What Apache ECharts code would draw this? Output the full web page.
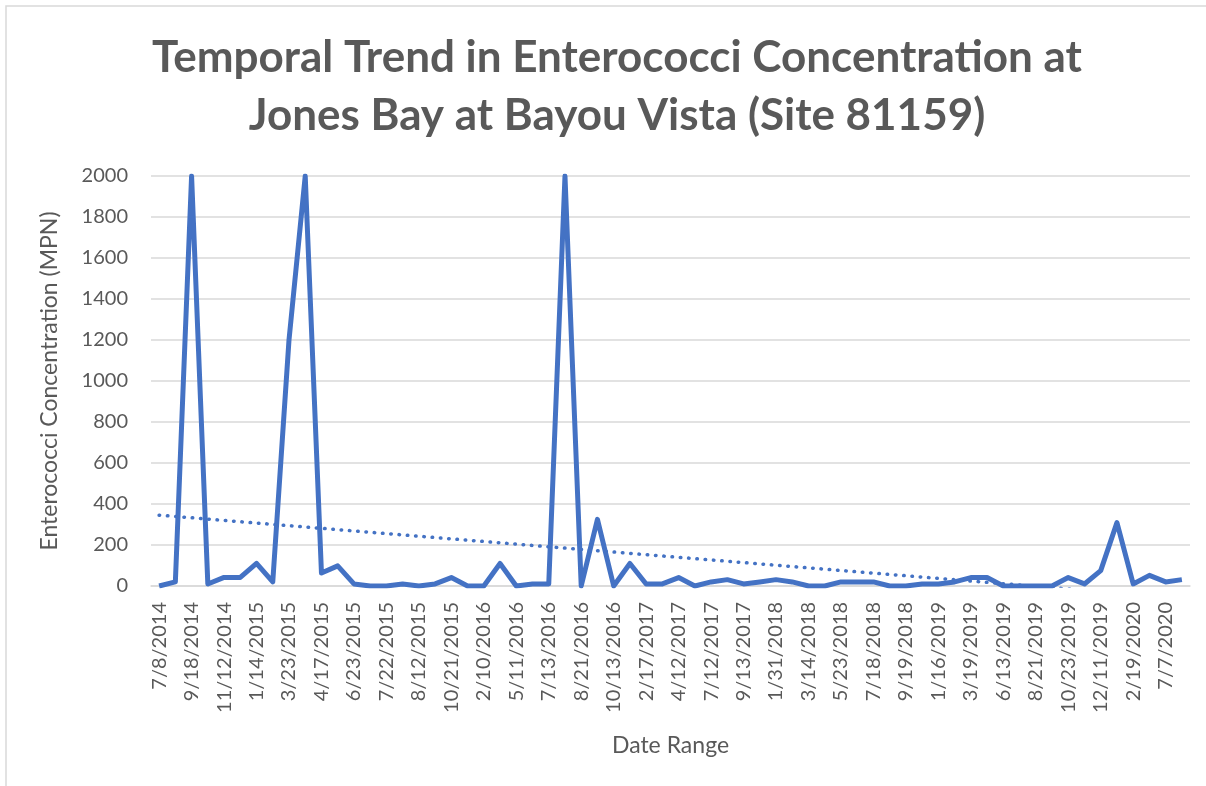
<!DOCTYPE html>
<html>
<head>
<meta charset="utf-8">
<script src="https://cdn.jsdelivr.net/npm/echarts@6/dist/echarts.min.js"></script>
<style>
    html, body { margin: 0; padding: 0; background: #fff; }
    #chart { width: 1206px; height: 786px; }
</style>
</head>
<body>
<div id="chart"></div>
<script>
    // labels shown on the axis (every other sample)
    const tickLabels = [
        '7/8/2014', '9/18/2014', '11/12/2014', '1/14/2015', '3/23/2015', '4/17/2015',
        '6/23/2015', '7/22/2015', '8/12/2015', '10/21/2015', '2/10/2016', '5/11/2016',
        '7/13/2016', '8/21/2016', '10/13/2016', '2/17/2017', '4/12/2017', '7/12/2017',
        '9/13/2017', '1/31/2018', '3/14/2018', '5/23/2018', '7/18/2018', '9/19/2018',
        '1/16/2019', '3/19/2019', '6/13/2019', '8/21/2019', '10/23/2019', '12/11/2019',
        '2/19/2020', '7/7/2020'
    ]

    // enterococci (MPN), one value per sample
    const enterococci = [
        0, 20, 2000, 10, 42, 42, 110, 20, 1200, 2000,
        63, 98, 10, 0, 0, 10, 0, 10, 41, 0,
        0, 110, 0, 10, 10, 2000, 0, 325, 0, 110,
        10, 10, 41, 0, 20, 31, 10, 20, 31, 20,
        0, 0, 20, 20, 20, 0, 0, 10, 10, 20,
        41, 41, 0, 0, 0, 0, 41, 10, 75, 309,
        10, 52, 20, 31
    ]

    const yTicks = { min: 0, max: 2000, interval: 200 }

    // odd samples have no visible label
    let categories = []
    tickLabels.forEach(function (label) {
        categories.push(label)
        categories.push('')
    })
    categories = categories.slice(0, enterococci.length)

    // linear trendline (least squares)
    const n = enterococci.length
    let sx = 0, sy = 0, sxy = 0, sxx = 0
    enterococci.forEach(function (v, i) {
        sx += i; sy += v; sxy += i * v; sxx += i * i
    })
    const slope = (n * sxy - sx * sy) / (n * sxx - sx * sx)
    const intercept = (sy - slope * sx) / n
    const trend = enterococci.map(function (v, i) {
        return +(intercept + slope * i).toFixed(2)
    })

    const textColor = '#595959'
    const gridColor = '#d9d9d9'
    const lineColor = '#4472C4'
    const font = 'Lato'

    const myChart = echarts.init(document.getElementById('chart'))
    let option = {
        backgroundColor: '#fff',
        animation: false,
        graphic: [
            {
                type: 'rect',
                shape: { x: 6, y: 6, width: 1400, height: 1000 },
                style: { fill: 'none', stroke: gridColor, lineWidth: 1.5 },
                silent: true
            }
        ],
        title: {
            text: 'Temporal Trend in Enterococci Concentration at\nJones Bay at Bayou Vista (Site 81159)',
            left: 612,
            top: 24,
            textAlign: 'center',
            textStyle: {
                fontFamily: font,
                fontWeight: 'bold',
                fontSize: 44,
                lineHeight: 58,
                color: textColor
            }
        },
        grid: {
            left: 151,
            right: 16,
            top: 176,
            bottom: 200,
            containLabel: false
        },
        xAxis: {
            type: 'category',
            data: categories,
            boundaryGap: true,
            name: 'Date Range',
            nameLocation: 'middle',
            nameGap: 148,
            nameTextStyle: { fontFamily: font, fontSize: 23, color: textColor },
            axisLine: { lineStyle: { color: gridColor, width: 1.5 } },
            axisTick: { show: false },
            axisLabel: {
                interval: 1,
                rotate: 90,
                margin: 16,
                fontFamily: font,
                fontSize: 20,
                color: textColor
            }
        },
        yAxis: {
            type: 'value',
            min: yTicks.min,
            max: yTicks.max,
            interval: yTicks.interval,
            name: 'Enterococci Concentration (MPN)',
            nameLocation: 'middle',
            nameRotate: 90,
            nameGap: 90,
            nameTextStyle: { fontFamily: font, fontSize: 23, color: textColor },
            axisLine: { show: false },
            axisTick: { show: false },
            axisLabel: {
                margin: 23,
                fontFamily: font,
                fontSize: 20,
                color: textColor,
                formatter: function (v) { return String(v) }
            },
            splitLine: { lineStyle: { color: gridColor, width: 1.5 } }
        },
        series: [
            {
                name: 'Enterococci',
                type: 'line',
                data: enterococci,
                showSymbol: false,
                clip: true,
                lineStyle: { color: lineColor, width: 5, join: 'round' },
                itemStyle: { color: lineColor },
                z: 3
            },
            {
                name: 'Linear trend',
                type: 'line',
                data: trend,
                showSymbol: false,
                clip: true,
                lineStyle: { color: lineColor, width: 3.5, type: [0.5, 7.8], cap: 'round' },
                itemStyle: { color: lineColor },
                z: 2
            }
        ]
    }
    option && myChart.setOption(option)
</script>
</body>
</html>
